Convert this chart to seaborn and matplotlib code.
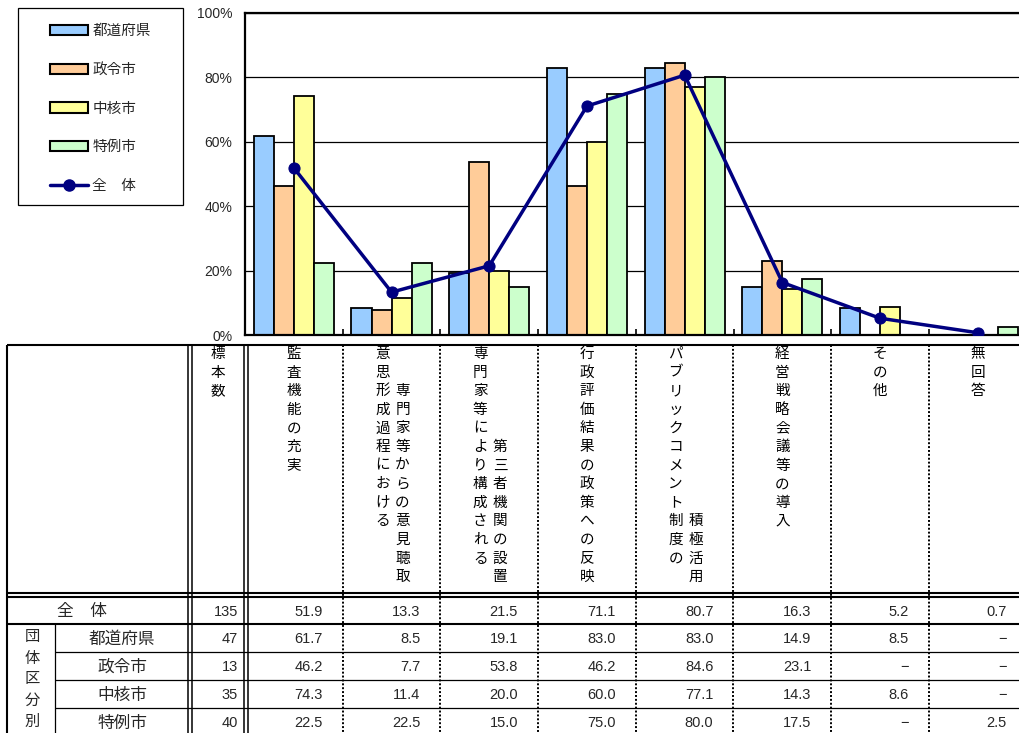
import numpy as np
import pandas as pd
import matplotlib
matplotlib.use("Agg")
import matplotlib.pyplot as plt
from matplotlib.patches import Patch, Rectangle
from matplotlib.lines import Line2D
import seaborn as sns

# ---- data -------------------------------------------------------------
categories = [
    "監査機能の充実",
    "意思形成過程における専門家等からの意見聴取",
    "専門家等により構成される第三者機関の設置",
    "行政評価結果の政策への反映",
    "パブリックコメント制度の積極活用",
    "経営戦略会議等の導入",
    "その他",
    "無回答",
]
# column headings, split into the vertical lines they are printed in
header_lines = [
    ["監査機能の充実"],
    ["意思形成過程における", "専門家等からの意見聴取"],
    ["専門家等により構成される", "第三者機関の設置"],
    ["行政評価結果の政策への反映"],
    ["パブリックコメント制度の", "積極活用"],
    ["経営戦略会議等の導入"],
    ["その他"],
    ["無回答"],
]
groups = ["都道府県", "政令市", "中核市", "特例市"]
overall_label = "全　体"
group_title = "団体区分別"
sample_label = "標本数"

overall_n = 135
group_n = [47, 13, 35, 40]

overall = [51.9, 13.3, 21.5, 71.1, 80.7, 16.3, 5.2, 0.7]
prefectures = [61.7, 8.5, 19.1, 83.0, 83.0, 14.9, 8.5, np.nan]
designated = [46.2, 7.7, 53.8, 46.2, 84.6, 23.1, np.nan, np.nan]
core_cities = [74.3, 11.4, 20.0, 60.0, 77.1, 14.3, 8.6, np.nan]
special_cities = [22.5, 22.5, 15.0, 75.0, 80.0, 17.5, np.nan, 2.5]
group_values = [prefectures, designated, core_cities, special_cities]

bar_colors = ["#99CCFF", "#FFCC99", "#FFFF99", "#CCFFCC"]
line_color = "#000080"

# ---- style ------------------------------------------------------------
sns.set_theme(style="white")
plt.rcParams["font.family"] = ["Noto Sans CJK JP", "DejaVu Sans"]
NUM_FONT = ["Liberation Sans", "Noto Sans CJK JP"]

W, H = 1019, 733
fig = plt.figure(figsize=(W / 100, H / 100), dpi=100)
fig.patch.set_facecolor("white")

# pixel layout
AX_L, AX_T, AX_B = 245, 13, 335
COL_W = 97.7
N = len(categories)

# ---- table / frame layer (pixel coordinates) ---------------------------
tab = fig.add_axes([0, 0, 1, 1])
tab.set_xlim(0, W)
tab.set_ylim(H, 0)
tab.axis("off")

TBL_L, TBL_T = 7, 345
HDR_B1, HDR_B2 = 593, 597
row_edges = [597, 624, 652, 680, 708, 736]
col_bounds = [AX_L + k * COL_W for k in range(N + 1)]

thick, mid, thin = 1.5, 1.1, 0.9
tab.hlines(TBL_T, TBL_L, W, color="black", lw=thick)
tab.hlines([HDR_B1, HDR_B2], TBL_L, W, color="black", lw=thick)
tab.hlines(row_edges[1], TBL_L, W, color="black", lw=thick)
tab.hlines(row_edges[2:5], 55, W, color="black", lw=thin)
tab.vlines(TBL_L, TBL_T, H, color="black", lw=thick)
tab.vlines(55, row_edges[1], H, color="black", lw=thin)
tab.vlines([188, 192, 244, 248], TBL_T, H, color="black", lw=mid)
tab.vlines(col_bounds[1:N], TBL_T, H, color="black", lw=1.4,
           linestyles=[(0, (1, 1))])

# vertical column headings
CH_Y0, CH_DY, CH_ROWS = 354, 18.6, 13
HDR_FS = 10.5
for k, lines in enumerate(header_lines):
    xc = AX_L + (k + 0.5) * COL_W
    if len(lines) == 1:
        placements = [(xc, 0, lines[0])]
    else:
        placements = [(xc - 9, 0, lines[0]),
                      (xc + 11, CH_ROWS - len(lines[1]), lines[1])]
    for x, start, text in placements:
        for i, ch in enumerate(text):
            tab.text(x, CH_Y0 + (start + i) * CH_DY, ch, ha="center",
                     va="center", fontsize=HDR_FS, color="black")
for i, ch in enumerate(sample_label):
    tab.text(218, CH_Y0 + i * CH_DY, ch, ha="center", va="center",
             fontsize=HDR_FS, color="black")

# body rows
row_centers = [(row_edges[i] + row_edges[i + 1]) / 2 + 1 for i in range(5)]
row_names = [overall_label] + groups
row_n = [overall_n] + group_n
row_vals = [overall] + group_values
for r in range(5):
    y = row_centers[r]
    if r == 0:
        tab.text(82, y, row_names[r], ha="center", va="center", fontsize=12)
    else:
        tab.text(122, y, row_names[r], ha="center", va="center", fontsize=12)
    tab.text(238, y, str(row_n[r]), ha="right", va="center", fontsize=10.5,
             family=NUM_FONT)
    for k in range(N):
        v = row_vals[r][k]
        s = "\u2212" if np.isnan(v) else f"{v:.1f}"
        tab.text(col_bounds[k + 1] - 20, y, s, ha="right", va="center",
                 fontsize=10.5, family=NUM_FONT)
for i, ch in enumerate(group_title):
    tab.text(32, 637 + i * 21, ch, ha="center", va="center", fontsize=11)

# legend frame
tab.add_patch(Rectangle((18, 8), 165, 197, fill=False, ec="black", lw=0.9))

# ---- chart ------------------------------------------------------------
ax = fig.add_axes([AX_L / W, 1 - AX_B / H, N * COL_W / W, (AX_B - AX_T) / H])

df = pd.DataFrame(
    [(categories[k], g, vals[k]) for g, vals in zip(groups, group_values)
     for k in range(N)],
    columns=["category", "group", "value"],
)
sns.barplot(data=df, x="category", y="value", hue="group", order=categories,
            hue_order=groups, palette=bar_colors, edgecolor="black",
            linewidth=1.3, width=0.82, errorbar=None, legend=False, ax=ax,
            zorder=2, saturation=1)
sns.lineplot(x=np.arange(N), y=overall, color=line_color, lw=2.5, marker="o",
             markersize=8, markeredgecolor=line_color, markerfacecolor=line_color,
             legend=False, ax=ax, zorder=4)

ax.set_xlim(-0.5, N - 0.5)
ax.set_ylim(0, 100)
ax.set_xlabel("")
ax.set_ylabel("")
ax.set_xticks(np.arange(0.5, N - 0.5, 1))
ax.set_xticklabels([])
ax.tick_params(axis="x", direction="in", length=4, width=1.2, color="black",
               bottom=True)
yt = [0, 20, 40, 60, 80, 100]
ax.set_yticks(yt)
ax.set_yticklabels([f"{v}%" for v in yt], family=NUM_FONT, fontsize=10)
ax.tick_params(axis="y", length=0, pad=9)
ax.yaxis.grid(True, color="black", lw=0.9)
ax.set_axisbelow(True)
for sp in ax.spines.values():
    sp.set_color("black")
    sp.set_linewidth(1.6)
    sp.set_visible(True)

# legend
handles = [Patch(facecolor=c, edgecolor="black", lw=1.5) for c in bar_colors]
handles.append(Line2D([], [], color=line_color, lw=2.5, marker="o",
                      markersize=8, markerfacecolor=line_color,
                      markeredgecolor=line_color))
fig.legend(handles, groups + [overall_label], loc="upper left",
           bbox_to_anchor=(50 / W, 1 - 24 / H), frameon=False, borderpad=0,
           borderaxespad=0, handlelength=2.6, handleheight=0.7,
           handletextpad=0.3, labelspacing=1.7, fontsize=10.5)

fig.savefig("out.png", dpi=100)
